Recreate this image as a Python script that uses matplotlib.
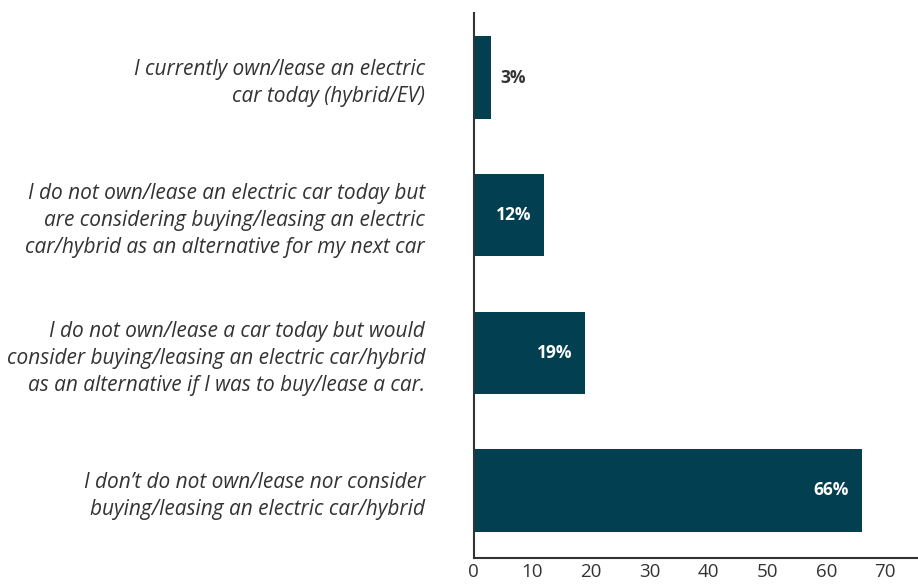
import matplotlib
matplotlib.use("Agg")
from matplotlib import pyplot as plt

categories = [
    "I currently own/lease an electric\ncar today (hybrid/EV)",
    "I do not own/lease an electric car today but\nare considering buying/leasing an electric\ncar/hybrid as an alternative for my next car",
    "I do not own/lease a car today but would\nconsider buying/leasing an electric car/hybrid\nas an alternative if I was to buy/lease a car.",
    "I don\u2019t do not own/lease nor consider\nbuying/leasing an electric car/hybrid",
]
values = [3, 12, 19, 66]
xticks = [0, 10, 20, 30, 40, 50, 60, 70]

bar_color = "#023f50"
text_color = "#333333"

plt.rcParams["font.family"] = ["Open Sans", "DejaVu Sans"]

fig = plt.figure(figsize=(9.18, 5.86), dpi=100)
ax = fig.add_axes([0.516, 0.048, 0.484, 0.93])

pos = list(range(len(values)))
ax.barh(pos, values, height=0.6, color=bar_color)

for p, v in zip(pos, values):
    label = f"{v}%"
    if v < 5:
        ax.text(v + 1.6, p, label, va="center", ha="left", fontsize=12.5,
                fontweight="bold", color=text_color)
    else:
        ax.text(v - 2.2, p, label, va="center", ha="right", fontsize=12.5,
                fontweight="bold", color="white")

ax.set_ylim(3.49, -0.47)
ax.set_xlim(0, 75.6)
ax.set_yticks(pos)
ax.set_yticklabels(categories, fontsize=15, style="italic", color=text_color,
                   linespacing=1.38)
ax.set_xticks(xticks)
ax.tick_params(axis="y", length=0, pad=35)
ax.tick_params(axis="x", length=0, pad=4, labelsize=13.5, colors=text_color)

for s in ["top", "right"]:
    ax.spines[s].set_visible(False)
for s in ["left", "bottom"]:
    ax.spines[s].set_color(text_color)
    ax.spines[s].set_linewidth(1.5)

fig.savefig("out.png", dpi=100)
